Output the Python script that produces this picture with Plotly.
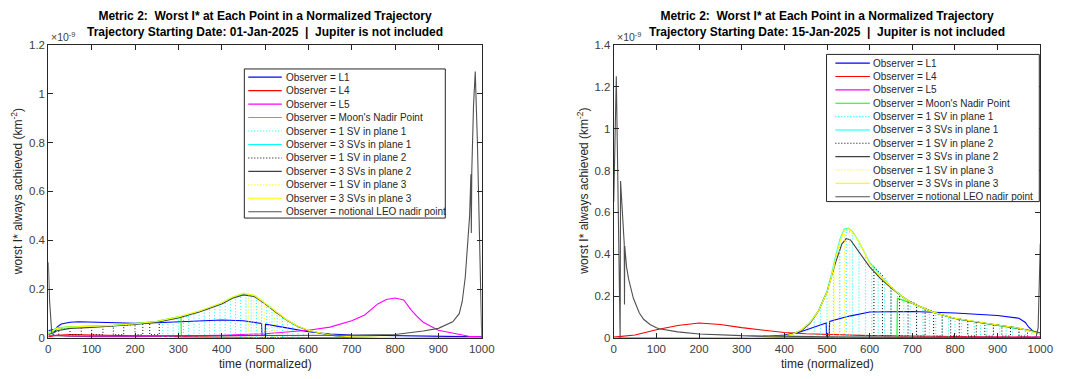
import plotly.graph_objects as go

W, H = 1072, 379

# ---------------- common ticks ----------------
X_TICKS = [0, 100, 200, 300, 400, 500, 600, 700, 800, 900, 1000]
Y_TICKS_A = [0, 0.2, 0.4, 0.6, 0.8, 1.0, 1.2]
Y_TICKS_B = [0, 0.2, 0.4, 0.6, 0.8, 1.0, 1.2, 1.4]

NAMES = ["Observer = L1", "Observer = L4", "Observer = L5", "Observer = Moon's Nadir Point",
         "Observer = 1 SV in plane 1", "Observer = 3 SVs in plane 1", "Observer = 1 SV in plane 2",
         "Observer = 3 SVs in plane 2", "Observer = 1 SV in plane 3", "Observer = 3 SVs in plane 3",
         "Observer = notional LEO nadir point"]

# ---------------- Panel A: 01-Jan-2025 (values in 1e-9 km^-2) ----------------
A_L1_x = [0, 10, 15, 20, 30, 50, 70, 100, 150, 200, 250, 300, 350, 400, 450, 480, 492, 493, 500, 501, 520, 550, 600, 650, 700, 800, 900, 1000]
A_L1_y = [0.03, 0.035, 0.025, 0.045, 0.058, 0.065, 0.067, 0.065, 0.062, 0.061, 0.063, 0.067, 0.072, 0.074, 0.071, 0.065, 0.06, 0.012, 0.012, 0.057, 0.052, 0.042, 0.026, 0.017, 0.013, 0.011, 0.008, 0.005]

A_L4_x = [0, 20, 50, 100, 150, 200, 250, 300, 400, 500, 700, 900, 1000]
A_L4_y = [0.005, 0.012, 0.015, 0.014, 0.012, 0.01, 0.008, 0.006, 0.003, 0.002, 0.001, 0.002, 0.003]

A_L5_x = [0, 20, 50, 100, 200, 300, 400, 500, 550, 600, 650, 700, 730, 760, 780, 800, 820, 836, 850, 865, 900, 935, 970, 1000]
A_L5_y = [0.01, 0.012, 0.008, 0.006, 0.006, 0.008, 0.012, 0.018, 0.025, 0.032, 0.045, 0.071, 0.095, 0.14, 0.158, 0.164, 0.156, 0.118, 0.09, 0.065, 0.032, 0.019, 0.008, 0.004]

A_MOON_x = [0, 10, 20, 50, 100, 150, 200, 250, 300, 306, 307, 400, 500, 600, 680]
A_MOON_y = [0.022, 0.032, 0.042, 0.046, 0.048, 0.053, 0.06, 0.069, 0.087, 0.088, 0.0, 0.0, 0.0, 0.0, 0.0]

A_SV1P1_xs = [264, 276, 288, 300, 312, 324, 336, 348, 360, 372, 384, 396, 408, 420, 432, 444, 456, 468, 480, 492, 504, 516, 528, 540, 552, 564, 576, 588]
A_SV1P1_top = [0.067, 0.071, 0.075, 0.08, 0.085, 0.091, 0.098, 0.104, 0.112, 0.12, 0.13, 0.14, 0.152, 0.163, 0.172, 0.178, 0.18, 0.176, 0.167, 0.155, 0.14, 0.123, 0.105, 0.089, 0.073, 0.059, 0.046, 0.036]
A_SV1P1_base = 0.004

A_ENV_x = [0, 10, 20, 50, 100, 150, 200, 250, 300, 350, 400, 425, 450, 475, 500, 525, 550, 575, 600, 650, 700, 800, 1000]
A_SV3P1_y = [0.018, 0.028, 0.038, 0.044, 0.046, 0.051, 0.058, 0.067, 0.086, 0.111, 0.144, 0.167, 0.183, 0.174, 0.142, 0.107, 0.074, 0.049, 0.031, 0.012, 0.004, 0.001, 0.0]

A_SV1P2_xs = [24, 50, 76, 100, 126, 150, 174, 200, 218, 234, 256]
A_SV1P2_top = [0.04, 0.043, 0.045, 0.046, 0.047, 0.049, 0.052, 0.056, 0.058, 0.062, 0.066]
A_SV1P2_base = 0.014

A_SV3P2_y = [0.015, 0.02, 0.03, 0.04, 0.044, 0.049, 0.056, 0.065, 0.083, 0.108, 0.14, 0.163, 0.177, 0.17, 0.14, 0.106, 0.074, 0.049, 0.031, 0.012, 0.004, 0.001, 0.0]

A_SV1P3_xs = [462, 474, 486, 498, 510, 522, 534]
A_SV1P3_top = [0.18, 0.176, 0.166, 0.151, 0.135, 0.117, 0.099]
A_SV1P3_base = 0.003

A_SV3P3_y = [0.02, 0.03, 0.04, 0.045, 0.047, 0.052, 0.059, 0.068, 0.087, 0.112, 0.145, 0.168, 0.184, 0.175, 0.143, 0.108, 0.075, 0.05, 0.032, 0.013, 0.005, 0.002, 0.0]

A_LEO_x = [0, 3, 8, 15, 50, 200, 400, 600, 700, 800, 865, 900, 933, 948, 955, 962, 968, 972, 975, 976, 977, 981, 985, 990, 995, 1000]
A_LEO_y = [0.31, 0.15, 0.02, 0.01, 0.009, 0.009, 0.01, 0.011, 0.012, 0.015, 0.029, 0.04, 0.067, 0.1, 0.15, 0.25, 0.38, 0.5, 0.67, 0.43, 0.68, 0.95, 1.09, 0.8, 0.4, 0.0]

# ---------------- Panel B: 15-Jan-2025 (values in 1e-9 km^-2) ----------------
B_L1_x = [0, 100, 200, 300, 350, 400, 430, 460, 480, 498, 499, 505, 506, 550, 600, 700, 800, 900, 950, 965, 973, 985, 1000]
B_L1_y = [0.001, 0.001, 0.002, 0.003, 0.005, 0.015, 0.025, 0.045, 0.058, 0.072, 0.0, 0.0, 0.08, 0.104, 0.125, 0.127, 0.12, 0.108, 0.095, 0.075, 0.052, 0.03, 0.02]

B_L4_x = [0, 50, 100, 150, 200, 250, 300, 400, 450, 500, 600, 800, 1000]
B_L4_y = [0.005, 0.015, 0.04, 0.06, 0.072, 0.065, 0.05, 0.027, 0.021, 0.017, 0.012, 0.008, 0.005]

B_L5_x = [0, 300, 500, 665, 700, 800, 900, 1000]
B_L5_y = [0.001, 0.001, 0.002, 0.003, 0.004, 0.004, 0.004, 0.005]

B_MOON_x = [0, 664, 665, 700, 750, 800, 850, 900, 950, 980, 1000]
B_MOON_y = [0.001, 0.001, 0.19, 0.165, 0.122, 0.094, 0.077, 0.062, 0.047, 0.035, 0.025]

B_SV1P1_xs = [455, 470, 485, 500, 515, 530, 545, 560, 575, 590, 605, 620, 635, 650, 665, 680, 695, 710, 725, 740, 755, 770, 785, 800, 815, 830, 845, 860, 875, 890, 905, 920, 935, 950, 965, 980]
B_SV1P1_top = [0.065, 0.1, 0.155, 0.22, 0.33, 0.46, 0.515, 0.5, 0.455, 0.4, 0.355, 0.32, 0.29, 0.245, 0.22, 0.195, 0.175, 0.162, 0.148, 0.133, 0.122, 0.112, 0.103, 0.095, 0.09, 0.085, 0.08, 0.075, 0.07, 0.066, 0.062, 0.057, 0.053, 0.048, 0.043, 0.035]
B_SV1P1_base = 0.004

B_ENV_x = [0, 100, 200, 300, 350, 400, 420, 440, 460, 480, 500, 510, 520, 530, 540, 550, 560, 575, 600, 625, 650, 675, 700, 750, 800, 850, 900, 950, 975, 990, 1000]
B_SV3P1_y = [0.0, 0.0, 0.0, 0.002, 0.004, 0.01, 0.02, 0.04, 0.075, 0.13, 0.225, 0.3, 0.39, 0.47, 0.52, 0.525, 0.508, 0.46, 0.36, 0.298, 0.245, 0.2, 0.167, 0.123, 0.094, 0.077, 0.062, 0.047, 0.034, 0.024, 0.02]

B_SV1P2_xs = [610, 630, 650, 670, 690, 710, 730, 750, 770, 790, 810, 830, 850, 870, 890, 910, 930, 950, 970]
B_SV1P2_top = [0.34, 0.3, 0.245, 0.21, 0.18, 0.162, 0.143, 0.125, 0.112, 0.1, 0.092, 0.085, 0.078, 0.072, 0.066, 0.06, 0.055, 0.048, 0.04]
B_SV1P2_base = 0.01

B_SV3P2_x = [0, 300, 400, 440, 460, 480, 500, 520, 535, 545, 555, 570, 600, 625, 650, 675, 700, 750, 800, 850, 900, 950, 980, 1000]
B_SV3P2_y = [0.0, 0.002, 0.01, 0.035, 0.07, 0.13, 0.22, 0.36, 0.45, 0.475, 0.468, 0.425, 0.34, 0.285, 0.24, 0.2, 0.167, 0.123, 0.094, 0.077, 0.062, 0.047, 0.034, 0.024]

B_SV1P3_xs = [505, 517, 529, 541, 553]
B_SV1P3_top = [0.26, 0.35, 0.45, 0.51, 0.515]
B_SV1P3_base = 0.003

B_SV3P3_y = [0.0, 0.0, 0.0, 0.002, 0.004, 0.01, 0.02, 0.04, 0.075, 0.13, 0.22, 0.29, 0.38, 0.46, 0.515, 0.522, 0.505, 0.46, 0.355, 0.295, 0.245, 0.2, 0.167, 0.123, 0.095, 0.078, 0.063, 0.048, 0.035, 0.025, 0.02]

B_LEO_x = [0, 2, 6, 15, 16, 24.6, 25.2, 25.8, 30, 35, 46, 60, 70, 85, 100, 107, 150, 200, 300, 400, 500, 700, 900, 990, 995, 1000]
B_LEO_y = [0.65, 0.9, 1.25, 0.0, 0.75, 0.45, 0.16, 0.44, 0.34, 0.28, 0.19, 0.12, 0.09, 0.065, 0.05, 0.045, 0.03, 0.02, 0.012, 0.008, 0.006, 0.004, 0.003, 0.003, 0.05, 0.45]

# ---------------- styles ----------------
COLORS = ["#0000ff", "#ff0000", "#ff00ff", "#00ff00", "#00ffff", "#00ffff", "#000000",
          "#404040", "#ffff00", "#ffff00", "#505050"]
DOT = "1px,2px"
DASHES = ["solid", "solid", "solid", "solid", DOT, "solid", DOT, "solid", DOT, "solid", "solid"]
FONT = "Liberation Sans, Arial, sans-serif"


def hatch(xs, tops, base):
    """Path that rises to each read top value and drops back to the base level."""
    px_, py_ = [], []
    for i, (x, t) in enumerate(zip(xs, tops)):
        if i % 2 == 0:
            px_ += [x, x]
            py_ += [base, t]
        else:
            px_ += [x, x]
            py_ += [t, base]
    return px_, py_


panel_A = [
    (A_L1_x, A_L1_y), (A_L4_x, A_L4_y), (A_L5_x, A_L5_y), (A_MOON_x, A_MOON_y),
    hatch(A_SV1P1_xs, A_SV1P1_top, A_SV1P1_base), (A_ENV_x, A_SV3P1_y),
    hatch(A_SV1P2_xs, A_SV1P2_top, A_SV1P2_base), (A_ENV_x, A_SV3P2_y),
    hatch(A_SV1P3_xs, A_SV1P3_top, A_SV1P3_base), (A_ENV_x, A_SV3P3_y),
    (A_LEO_x, A_LEO_y),
]
panel_B = [
    (B_L1_x, B_L1_y), (B_L4_x, B_L4_y), (B_L5_x, B_L5_y), (B_MOON_x, B_MOON_y),
    hatch(B_SV1P1_xs, B_SV1P1_top, B_SV1P1_base), (B_ENV_x, B_SV3P1_y),
    hatch(B_SV1P2_xs, B_SV1P2_top, B_SV1P2_base), (B_SV3P2_x, B_SV3P2_y),
    hatch(B_SV1P3_xs, B_SV1P3_top, B_SV1P3_base), (B_ENV_x, B_SV3P3_y),
    (B_LEO_x, B_LEO_y),
]

fig = go.Figure()
for panel, xa, ya in [(panel_A, "x", "y"), (panel_B, "x2", "y2")]:
    for i, (xv, yv) in enumerate(panel):
        fig.add_trace(go.Scatter(
            x=xv, y=yv, mode="lines", name=NAMES[i], xaxis=xa, yaxis=ya,
            line=dict(color=COLORS[i], width=1.0 if DASHES[i] == DOT else 1.1, dash=DASHES[i]),
            showlegend=False, hoverinfo="skip"))


def PX(x):
    return x / W


def PY(y):
    return 1 - y / H


# plot area pixel boxes
A_BOX = (46, 486, 40, 343)
B_BOX = (620, 1053, 40, 343)

axis_common = dict(showline=True, linecolor="#262626", linewidth=1, mirror="ticks",
                   ticks="inside", ticklen=5, tickcolor="#262626", tickwidth=1,
                   showgrid=False, zeroline=False,
                   tickfont=dict(family=FONT, size=11.5, color="#404040"))

fig.update_layout(
    width=W, height=H, margin=dict(l=0, r=0, t=0, b=0),
    paper_bgcolor="white", plot_bgcolor="white", showlegend=False,
    xaxis=dict(domain=[PX(A_BOX[0]), PX(A_BOX[1])], range=[0, 1000], tickvals=X_TICKS, anchor="y", **axis_common),
    yaxis=dict(domain=[PY(A_BOX[3]), PY(A_BOX[2])], range=[0, 1.2], tickvals=Y_TICKS_A, anchor="x", **axis_common),
    xaxis2=dict(domain=[PX(B_BOX[0]), PX(B_BOX[1])], range=[0, 1000], tickvals=X_TICKS, anchor="y2", **axis_common),
    yaxis2=dict(domain=[PY(B_BOX[3]), PY(B_BOX[2])], range=[0, 1.4], tickvals=Y_TICKS_B, anchor="x2", **axis_common),
)

annotations = []
shapes = []
TXT = "#262626"
for box, date, leg in [
    (A_BOX, "01-Jan-2025", dict(x0=245, x1=449, y0=65, y1=219, lx0=249, lx1=283, tx=285, ty0=73.5, dy=13.9)),
    (B_BOX, "15-Jan-2025", dict(x0=836, x1=1052, y0=50, y1=202, lx0=845, lx1=880, tx=881, ty0=59, dy=13.8)),
]:
    cx = (box[0] + box[1]) / 2
    annotations.append(dict(
        x=PX(cx), y=PY(19), xref="paper", yref="paper", xanchor="center", yanchor="middle",
        text="<b>Metric 2:\u00a0 Worst I* at Each Point in a Normalized Trajectory<br>"
             "Trajectory Starting Date: " + date + "\u00a0 |\u00a0 Jupiter is not included</b>",
        showarrow=False, font=dict(family=FONT, size=12, color="#000000")))
    annotations.append(dict(
        x=PX(box[0] + 1), y=PY(32), xref="paper", yref="paper", xanchor="left", yanchor="middle",
        text="×10<sup>-9</sup>", showarrow=False, font=dict(family=FONT, size=10.5, color="#404040")))
    annotations.append(dict(
        x=PX(cx), y=PY(370), xref="paper", yref="paper", xanchor="center", yanchor="middle",
        text="time (normalized)", showarrow=False, font=dict(family=FONT, size=12, color=TXT)))
    annotations.append(dict(
        x=PX(box[0] - 31), y=PY((box[2] + box[3]) / 2), xref="paper", yref="paper",
        xanchor="center", yanchor="middle", textangle=-90,
        text="worst I* always achieved (km<sup>-2</sup>)", showarrow=False,
        font=dict(family=FONT, size=12, color=TXT)))
    # legend box
    shapes.append(dict(type="rect", xref="paper", yref="paper",
                       x0=PX(leg["x0"]), x1=PX(leg["x1"]), y0=PY(leg["y1"]), y1=PY(leg["y0"]),
                       line=dict(color="#262626", width=1), fillcolor="white", layer="above"))
    for i, name in enumerate(NAMES):
        yy = leg["ty0"] + i * leg["dy"]
        shapes.append(dict(type="line", xref="paper", yref="paper",
                           x0=PX(leg["lx0"]), x1=PX(leg["lx1"]), y0=PY(yy), y1=PY(yy),
                           line=dict(color=COLORS[i], width=1.1, dash=DASHES[i]), layer="above"))
        annotations.append(dict(
            x=PX(leg["tx"]), y=PY(yy), xref="paper", yref="paper", xanchor="left", yanchor="middle",
            text=name, showarrow=False, font=dict(family=FONT, size=10, color=TXT)))

fig.update_layout(annotations=annotations, shapes=shapes)
fig.write_html("out.html")
